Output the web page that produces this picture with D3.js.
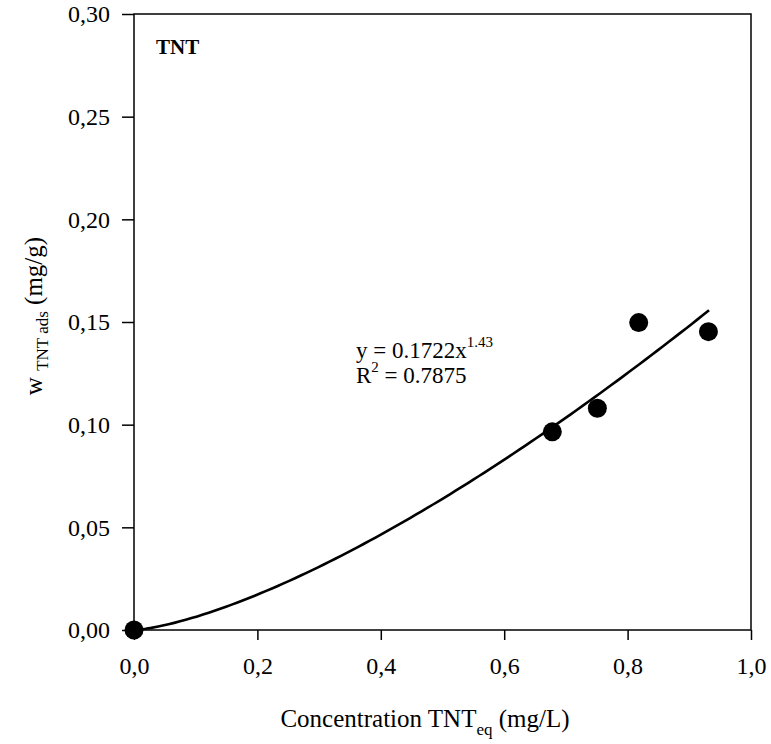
<!DOCTYPE html>
<meta charset="utf-8">
<style>
body { margin: 0; background: #fff; }
svg text { font-family: "Liberation Serif", "Times New Roman", serif; fill: #000; }
.axis path, .axis line { stroke: #000; stroke-width: 1.5; }
.axis text { font-size: 24px; }
.frame { fill: none; stroke: #000; stroke-width: 1.5; }
.fit { fill: none; stroke: #000; stroke-width: 2.6; }
</style>
<svg width="771" height="744"></svg>
<script src="https://d3js.org/d3.v7.min.js"></script>
<script>
// measured points
var concX = [0, 0.678, 0.751, 0.818, 0.931];
var wAds = [0, 0.0965, 0.108, 0.1497, 0.1453];

// power fit from the chart label: y = a x^b
var fitA = 0.1722, fitB = 1.43, fitEnd = 0.932;

var xTicks = [0, 0.2, 0.4, 0.6, 0.8, 1.0];
var yTicks = [0, 0.05, 0.10, 0.15, 0.20, 0.25, 0.30];

var svg = d3.select("svg");
var pLeft = 134, pRight = 751, pTop = 14, pBottom = 630;

var x = d3.scaleLinear().domain([0, 1]).range([pLeft, pRight]);
var y = d3.scaleLinear().domain([0, 0.3]).range([pBottom, pTop]);

var comma = function(f) { return function(d) { return d3.format(f)(d).replace(".", ","); }; };

svg.append("rect").attr("class", "frame")
    .attr("x", pLeft).attr("y", pTop)
    .attr("width", pRight - pLeft).attr("height", pBottom - pTop);

svg.append("g").attr("class", "axis")
    .attr("transform", "translate(0," + pBottom + ")")
    .call(d3.axisBottom(x).tickValues(xTicks).tickFormat(comma(".1f")).tickSize(10).tickSizeOuter(0).tickPadding(17))
    .call(function(g) { g.select(".domain").remove(); });

svg.append("g").attr("class", "axis")
    .attr("transform", "translate(" + pLeft + ",0)")
    .call(d3.axisLeft(y).tickValues(yTicks).tickFormat(comma(".2f")).tickSize(12).tickSizeOuter(0).tickPadding(12))
    .call(function(g) { g.select(".domain").remove(); });

var curve = d3.range(0, 101).map(function(i) {
  var xv = fitEnd * i / 100;
  return [xv, fitA * Math.pow(xv, fitB)];
});

svg.append("path").attr("class", "fit")
    .datum(curve)
    .attr("d", d3.line().x(function(d) { return x(d[0]); }).y(function(d) { return y(d[1]); }));

svg.append("g").selectAll("circle")
    .data(concX)
  .enter().append("circle")
    .attr("cx", function(d) { return x(d); })
    .attr("cy", function(d, i) { return y(wAds[i]); })
    .attr("r", 9.5)
    .attr("fill", "#000");

svg.append("text").attr("x", 156).attr("y", 54)
    .style("font-size", "21px").style("font-weight", "bold").text("TNT");

var eq = svg.append("text").attr("x", 356).attr("y", 358).style("font-size", "23px");
eq.append("tspan").text("y = 0.1722x");
eq.append("tspan").attr("dy", -11).style("font-size", "15px").text("1.43");
var r2 = svg.append("text").attr("x", 356).attr("y", 383).style("font-size", "23px");
r2.append("tspan").text("R");
r2.append("tspan").attr("dy", -11).style("font-size", "15px").text("2");
r2.append("tspan").attr("dy", 11).text(" = 0.7875");

var xt = svg.append("text").attr("x", 425).attr("y", 727)
    .attr("text-anchor", "middle").style("font-size", "25px");
xt.append("tspan").text("Concentration TNT");
xt.append("tspan").attr("dy", 8).style("font-size", "17px").text("eq");
xt.append("tspan").attr("dy", -8).text(" (mg/L)");

var yt = svg.append("text")
    .attr("transform", "translate(42,316) rotate(-90)")
    .attr("text-anchor", "middle").style("font-size", "25px");
yt.append("tspan").text("w ");
yt.append("tspan").attr("dy", 6).style("font-size", "17px").text("TNT ads");
yt.append("tspan").attr("dy", -6).text(" (mg/g)");
</script>
